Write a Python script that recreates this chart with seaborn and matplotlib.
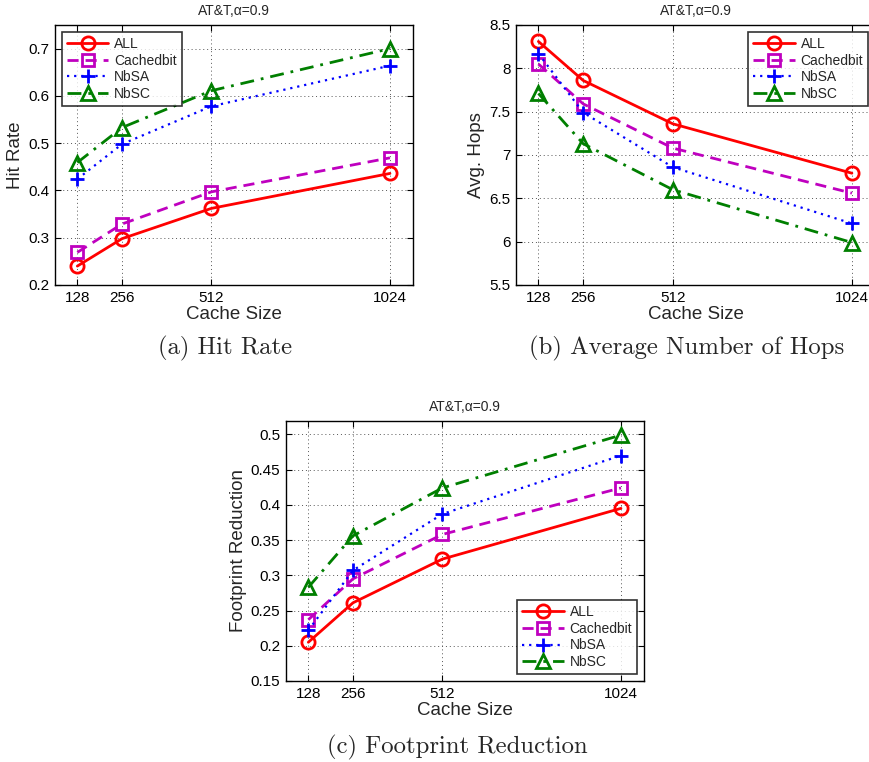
import numpy as np
import pandas as pd
import matplotlib
matplotlib.use("Agg")
import matplotlib.pyplot as plt
import seaborn as sns

cache_sizes = [128, 256, 512, 1024]
series_names = ["ALL", "Cachedbit", "NbSA", "NbSC"]

hit_all = [0.240, 0.298, 0.362, 0.436]
hit_cached = [0.269, 0.329, 0.397, 0.469]
hit_nbsa = [0.424, 0.498, 0.578, 0.664]
hit_nbsc = [0.459, 0.533, 0.611, 0.700]

hops_all = [8.31, 7.86, 7.36, 6.79]
hops_cached = [8.05, 7.59, 7.08, 6.56]
hops_nbsa = [8.17, 7.49, 6.86, 6.21]
hops_nbsc = [7.71, 7.13, 6.60, 5.99]

fp_all = [0.205, 0.261, 0.323, 0.395]
fp_cached = [0.237, 0.295, 0.358, 0.424]
fp_nbsa = [0.222, 0.307, 0.387, 0.470]
fp_nbsc = [0.283, 0.356, 0.424, 0.499]

title_text = "AT&T,\u03b1=0.9"

sns.set_theme(style="white")
plt.rcParams['font.family'] = ['Liberation Sans', 'DejaVu Sans']

styles = {
    "ALL": dict(color="#ff0000", marker="o", linestyle="-", markersize=9.5, lw=2.0),
    "Cachedbit": dict(color="#bf00bf", marker="s", linestyle=(0, (4, 2.5)), markersize=8.5, lw=2.0),
    "NbSA": dict(color="#0000ff", marker="+", linestyle=(0, (1, 2.2)), markersize=10, lw=1.6),
    "NbSC": dict(color="#007f00", marker="^", linestyle=(0, (5, 2.5, 1, 2.5)), markersize=10, lw=2.0),
}

fig = plt.figure(figsize=(8.69, 7.62), dpi=100)
W, H = 869, 762

def add_axes_px(left, top, right, bottom):
    return fig.add_axes([left / W, 1 - bottom / H, (right - left) / W, (bottom - top) / H])

def draw_panel(ax, data, ylim, yticks, yticklabels, ylabel, legend_loc, caption, caption_xy):
    for name, vals in zip(series_names, data):
        st = styles[name]
        df = pd.DataFrame({"Cache Size": cache_sizes, "val": vals})
        sns.lineplot(data=df, x="Cache Size", y="val", ax=ax, color=st["color"],
                     linestyle=st["linestyle"], linewidth=st["lw"], marker=st["marker"],
                     markersize=st["markersize"], markerfacecolor="none" if st["marker"] != "+" else st["color"],
                     markeredgecolor=st["color"], markeredgewidth=2.0, label=name,
                     errorbar=None)
    ax.set_xlim(64, 1090)
    ax.set_ylim(*ylim)
    ax.set_xticks(cache_sizes)
    ax.set_xticklabels([str(c) for c in cache_sizes], fontsize=11)
    ax.set_yticks(yticks)
    ax.set_yticklabels(yticklabels, fontsize=11)
    ax.set_xlabel("Cache Size", fontsize=13.5, labelpad=1)
    ax.set_ylabel(ylabel, fontsize=13.5, labelpad=3)
    ax.set_title(title_text, fontsize=10, pad=7)
    ax.grid(True, color="#555555", linestyle=(0, (1, 3)), linewidth=0.7)
    ax.tick_params(direction="in", length=4, width=0.8, top=True, right=True,
                   bottom=True, left=True, pad=4, colors="black")
    for sp in ax.spines.values():
        sp.set_color("black")
        sp.set_linewidth(1.0)
    leg = ax.legend(loc=legend_loc, fontsize=10, frameon=True, fancybox=False,
                    handlelength=3.0, labelspacing=0.2, borderpad=0.35,
                    borderaxespad=0.5, handletextpad=0.4, edgecolor="black")
    leg.get_frame().set_linewidth(1.2)
    fig.text(caption_xy[0] / W, 1 - caption_xy[1] / H, caption, family="cmr10",
             fontsize=17.8, ha="center", va="center")

ax_a = add_axes_px(55, 25, 413, 285)
draw_panel(ax_a, [hit_all, hit_cached, hit_nbsa, hit_nbsc], (0.2, 0.75),
           [0.2, 0.3, 0.4, 0.5, 0.6, 0.7], ["0.2", "0.3", "0.4", "0.5", "0.6", "0.7"],
           "Hit Rate", "upper left", "(a) Hit Rate", (225, 348))

ax_b = add_axes_px(516, 25, 875, 285)
draw_panel(ax_b, [hops_all, hops_cached, hops_nbsa, hops_nbsc], (5.5, 8.5),
           [5.5, 6, 6.5, 7, 7.5, 8, 8.5], ["5.5", "6", "6.5", "7", "7.5", "8", "8.5"],
           "Avg. Hops", "upper right", "(b) Average Number of Hops", (687, 348))

ax_c = add_axes_px(286, 421, 644, 681)
draw_panel(ax_c, [fp_all, fp_cached, fp_nbsa, fp_nbsc], (0.15, 0.519),
           [0.15, 0.2, 0.25, 0.3, 0.35, 0.4, 0.45, 0.5],
           ["0.15", "0.2", "0.25", "0.3", "0.35", "0.4", "0.45", "0.5"],
           "Footprint Reduction", "lower right", "(c) Footprint Reduction", (457, 747))

fig.savefig("out.png", dpi=100)
